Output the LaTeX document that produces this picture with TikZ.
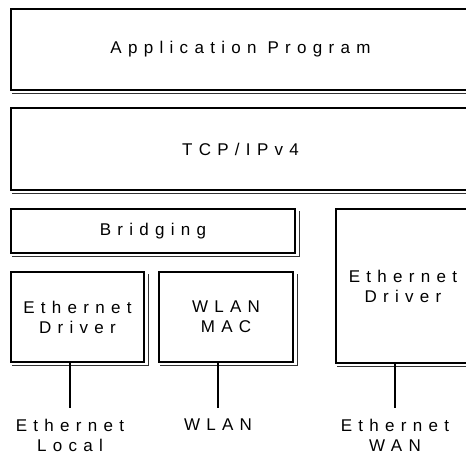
\documentclass[tikz,border=0pt]{standalone}
\usepackage{fontspec}
\setmainfont{Liberation Sans}[LetterSpace=37]
\begin{document}
\begin{tikzpicture}[x=1pt,y=1pt,
  layer/.style={draw=black, line width=1.2pt, fill=white, inner sep=0pt,
    align=center, font=\fontsize{17}{20}\selectfont},
  shadowline/.style={draw=black!80, line width=0.8pt},
  wire/.style={draw=black, line width=1.1pt},
  medium/.style={anchor=north, inner xsep=0pt, inner ysep=11pt, align=center,
    font=\fontsize{17}{20}\selectfont}]
\useasboundingbox (0,0) rectangle (466,454);
\begin{scope}
\clip (0,0) rectangle (466,454);

% protocol layers
\node[layer, minimum width=459pt, minimum height=81pt] (app) at (240.5,404.5) {Application Program};
\node[layer, minimum width=459pt, minimum height=82pt] (tcp) at (240.5,305) {TCP/IPv4};
\node[layer, minimum width=284pt, minimum height=44pt] (bridge) at (153,223) {Bridging};
\node[layer, minimum width=133pt, minimum height=90pt] (ethL) at (77.5,137) {Ethernet\\Driver};
\node[layer, minimum width=134pt, minimum height=90pt] (wlan) at (226,137) {WLAN\\MAC};
\node[layer, minimum width=134pt, minimum height=154pt] (ethW) at (403,168) {Ethernet\\Driver};

% offset shadow edges under and right of each layer
\foreach \b in {app,tcp,bridge,ethL,wlan,ethW}{
  \draw[shadowline] ([shift={(2,-2.7)}]\b.south west) -- ([shift={(4,-2.7)}]\b.south east)
    -- ([shift={(4,-3)}]\b.north east);
}

% physical media
\node[medium] (lanL) at (70,46) {Ethernet\\Local};
\node[medium] (lanW) at (218,46) {WLAN};
\node[medium] (wan) at (395,46) {Ethernet\\WAN};

\draw[wire] (ethL.south -| lanL.north) -- (lanL.north);
\draw[wire] (wlan.south -| lanW.north) -- (lanW.north);
\draw[wire] (ethW.south -| wan.north) -- (wan.north);
\end{scope}
\end{tikzpicture}
\end{document}
